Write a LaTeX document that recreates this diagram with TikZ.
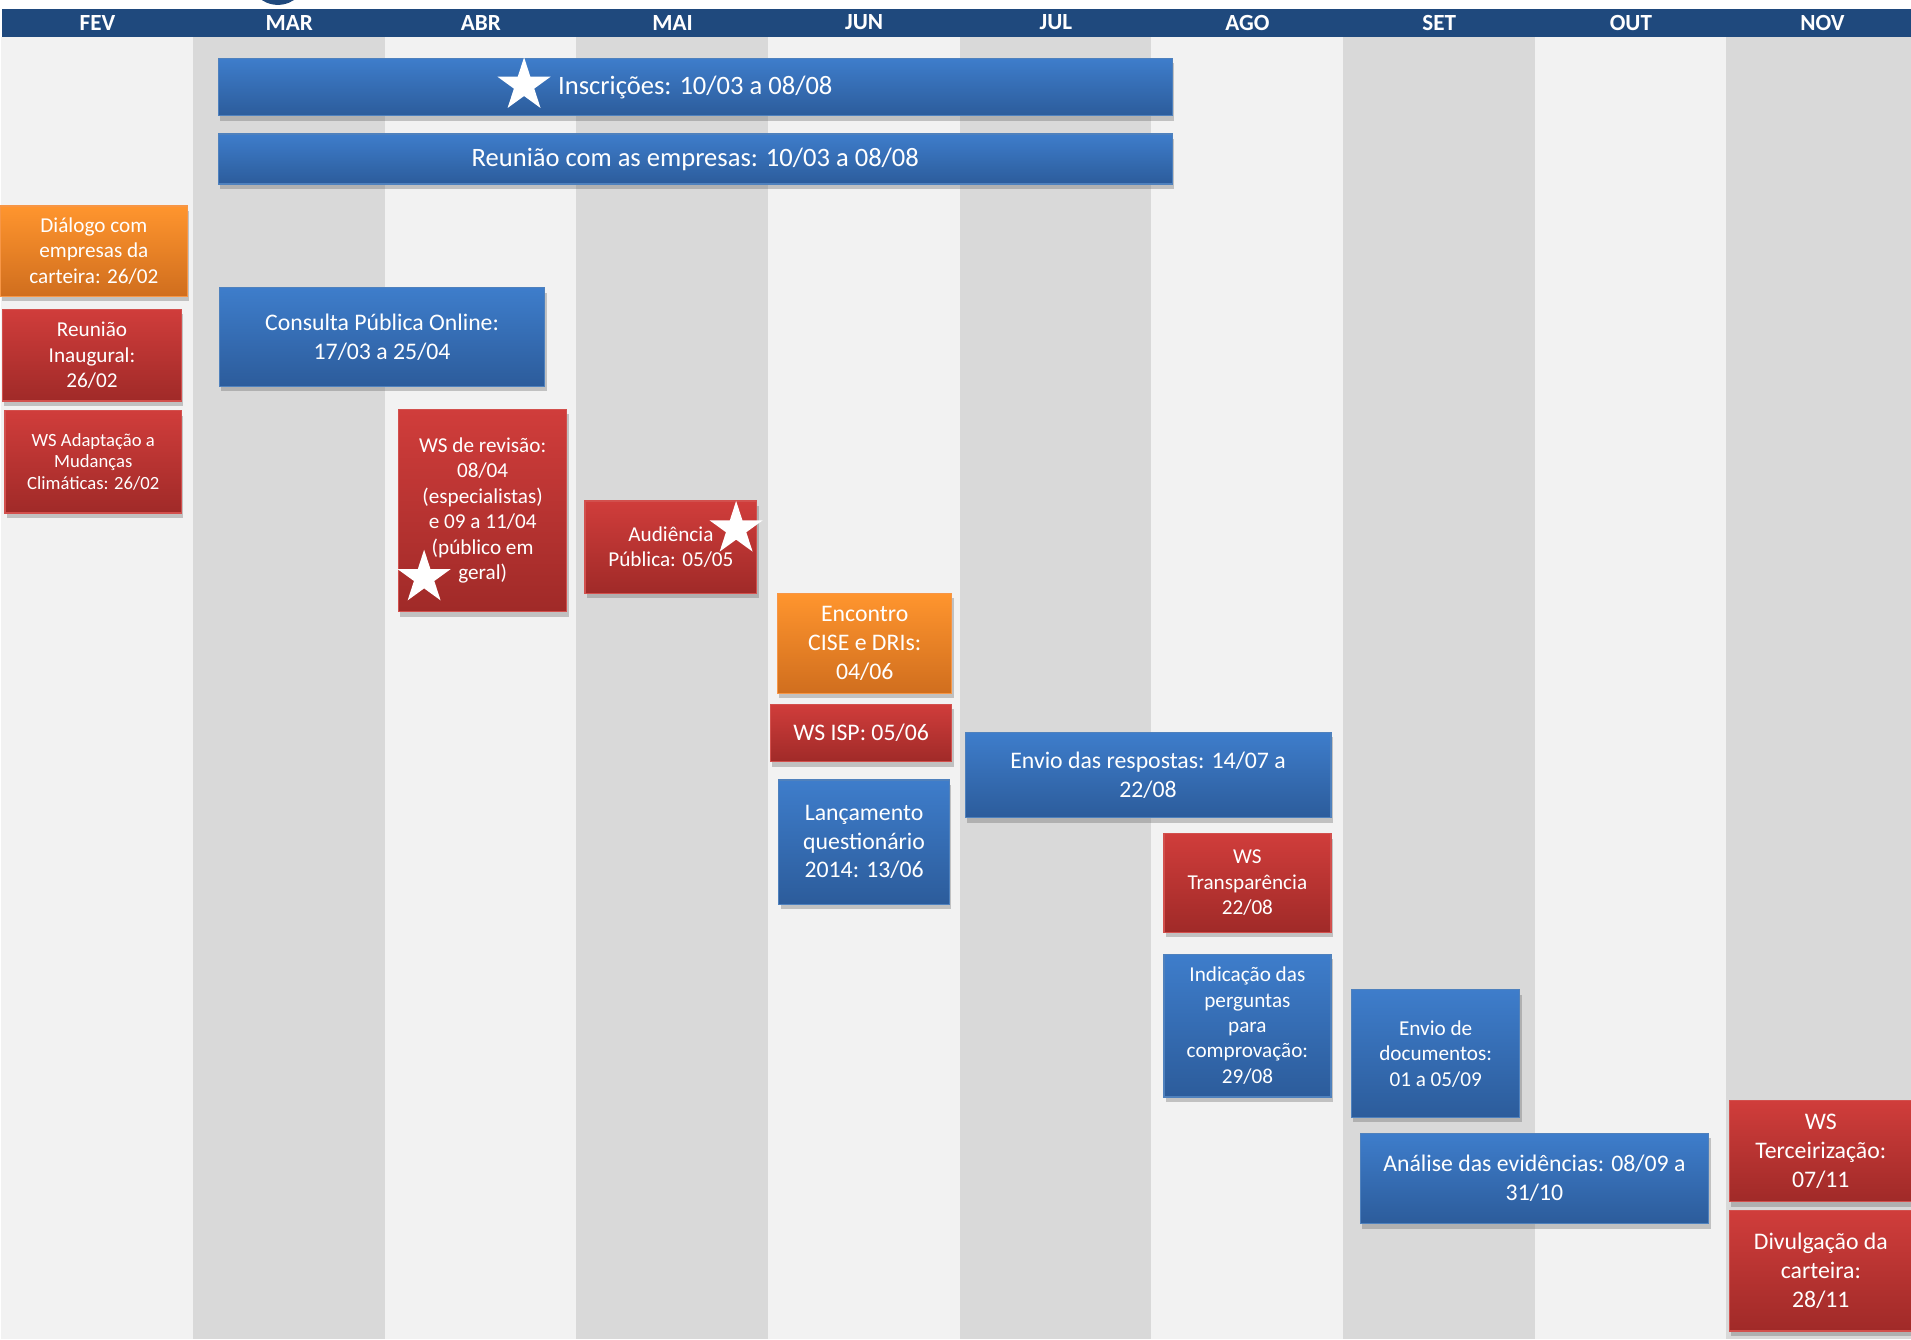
\documentclass[tikz,border=0pt]{standalone}
\usepackage{fontspec}
\setmainfont{Carlito}
\usepackage{tikz}
\usepackage{xcolor}
\usetikzlibrary{shapes.geometric, shadows}

\definecolor{hdrblue}{HTML}{1F497D}
\definecolor{lightcol}{HTML}{F2F2F2}
\definecolor{graycol}{HTML}{D9D9D9}
\definecolor{bluetop}{HTML}{3E7DCB}
\definecolor{bluebot}{HTML}{2C5C9B}
\definecolor{blueedge}{HTML}{4F81BD}
\definecolor{redtop}{HTML}{D03D3B}
\definecolor{redbot}{HTML}{A02A28}
\definecolor{rededge}{HTML}{D2504D}
\definecolor{orangetop}{HTML}{FF952E}
\definecolor{orangebot}{HTML}{D06E1E}
\definecolor{orangeedge}{HTML}{F79646}

\tikzstyle{month} = [rectangle, minimum width=3.146cm, minimum height=0.46cm, inner sep=0pt, fill=hdrblue, text=white, font=\bfseries\fontsize{10.8pt}{12pt}\selectfont]
\tikzstyle{event} = [rectangle, text centered, align=center, text=white, inner sep=0pt, line width=0.6pt, drop shadow={shadow xshift=0.03cm, shadow yshift=-0.08cm, opacity=0.35, fill=black!60}]
\tikzstyle{bluebox} = [event, draw=blueedge, top color=bluetop, bottom color=bluebot]
\tikzstyle{redbox} = [event, draw=rededge, top color=redtop, bottom color=redbot]
\tikzstyle{orangebox} = [event, draw=orangeedge, top color=orangetop, bottom color=orangebot]
\tikzstyle{bigtext} = [font=\fontsize{12.4pt}{14pt}\selectfont]
\tikzstyle{midtext} = [font=\fontsize{11.1pt}{13.4pt}\selectfont]
\tikzstyle{smalltext} = [font=\fontsize{9.9pt}{11.9pt}\selectfont]
\tikzstyle{tinytext} = [font=\fontsize{8.7pt}{10.2pt}\selectfont]
\tikzstyle{whitestar} = [star, star points=5, star point ratio=2.618, fill=white, minimum size=0.92cm, inner sep=0pt]

\begin{document}
\begin{tikzpicture}[x=0.02cm, y=-0.02cm, node distance=3.146cm]
    \useasboundingbox (0,0) rectangle (1568,1099);
    \clip (0,0) rectangle (1568,1099);
    \fill[hdrblue] (228,-20) circle (0.48cm);

    % months
    \node (fev) [month] at (80,18.5) {FEV};
    \node (mar) [month, right of=fev] {MAR};
    \node (abr) [month, right of=mar] {ABR};
    \node (mai) [month, right of=abr] {MAI};
    \node (jun) [month, right of=mai] {JUN};
    \node (jul) [month, right of=jun] {JUL};
    \node (ago) [month, right of=jul] {AGO};
    \node (set) [month, right of=ago] {SET};
    \node (out) [month, right of=set] {OUT};
    \node (nov) [month, right of=out] {NOV};

    \coordinate (bot) at (0,1099);
    \fill[lightcol] (fev.south west) rectangle (fev.south east |- bot);
    \fill[graycol] (mar.south west) rectangle (mar.south east |- bot);
    \fill[lightcol] (abr.south west) rectangle (abr.south east |- bot);
    \fill[graycol] (mai.south west) rectangle (mai.south east |- bot);
    \fill[lightcol] (jun.south west) rectangle (jun.south east |- bot);
    \fill[graycol] (jul.south west) rectangle (jul.south east |- bot);
    \fill[lightcol] (ago.south west) rectangle (ago.south east |- bot);
    \fill[graycol] (set.south west) rectangle (set.south east |- bot);
    \fill[lightcol] (out.south west) rectangle (out.south east |- bot);
    \fill[graycol] (nov.south west) rectangle (nov.south east |- bot);

    % events
    \node (insc) [bluebox, bigtext, minimum width=15.66cm, minimum height=0.94cm] at (570.5,71.5) {Inscrições: 10/03 a 08/08};
    \node (reun) [bluebox, bigtext, minimum width=15.66cm, minimum height=0.82cm] at (570.5,130.5) {Reunião com as empresas: 10/03 a 08/08};
    \node (dialogo) [orangebox, smalltext, minimum width=3.08cm, minimum height=1.48cm] at (77,206) {Diálogo com\\empresas da\\carteira: 26/02};
    \node (inaug) [redbox, smalltext, minimum width=2.94cm, minimum height=1.50cm] at (75.5,291.5) {Reunião\\Inaugural:\\26/02};
    \node (wsadapt) [redbox, tinytext, minimum width=2.90cm, minimum height=1.68cm] at (76.5,379) {WS Adaptação a\\Mudanças\\Climáticas: 26/02};
    \node (consulta) [bluebox, midtext, minimum width=5.34cm, minimum height=1.62cm] at (313.5,276.5) {Consulta Pública Online:\\17/03 a 25/04};
    \node (wsrev) [redbox, smalltext, minimum width=2.76cm, minimum height=3.32cm] at (396,419) {WS de revisão:\\08/04\\(especialistas)\\e 09 a 11/04\\(público em\\geral)};
    \node (audiencia) [redbox, smalltext, minimum width=2.82cm, minimum height=1.52cm] at (550.5,449) {Audiência\\Pública: 05/05};
    \node (encontro) [orangebox, midtext, minimum width=2.86cm, minimum height=1.64cm] at (709.5,528) {Encontro\\CISE e DRIs:\\04/06};
    \node (wsisp) [redbox, midtext, minimum width=2.98cm, minimum height=0.94cm] at (706.5,601.5) {WS ISP: 05/06};
    \node (lanc) [bluebox, midtext, minimum width=2.80cm, minimum height=2.04cm] at (709,691) {Lançamento\\questionário\\2014: 13/06};
    \node (envioresp) [bluebox, midtext, minimum width=6.00cm, minimum height=1.40cm] at (942,636) {Envio das respostas: 14/07 a\\22/08};
    \node (wstransp) [redbox, smalltext, minimum width=2.74cm, minimum height=1.62cm] at (1023.5,724.5) {WS\\Transparência\\22/08};
    \node (indic) [bluebox, smalltext, minimum width=2.74cm, minimum height=2.34cm] at (1023.5,841.5) {Indicação das\\perguntas\\para\\comprovação:\\29/08};
    \node (enviodoc) [bluebox, smalltext, minimum width=2.76cm, minimum height=2.10cm] at (1178,864.5) {Envio de\\documentos:\\01 a 05/09};
    \node (analise) [bluebox, midtext, minimum width=5.72cm, minimum height=1.48cm] at (1259,967) {Análise das evidências: 08/09 a\\31/10};
    \node (wsterc) [redbox, midtext, minimum width=3.00cm, minimum height=1.66cm] at (1494,944.5) {WS\\Terceirização:\\07/11};
    \node (divulg) [redbox, midtext, minimum width=3.00cm, minimum height=1.98cm] at (1494,1042.5) {Divulgação da\\carteira:\\28/11};

    % stars
    \node (star1) [whitestar] at (430,70) {};
    \node (star2) [whitestar] at (348,474) {};
    \node (star3) [whitestar] at (604,434) {};
\end{tikzpicture}
\end{document}
